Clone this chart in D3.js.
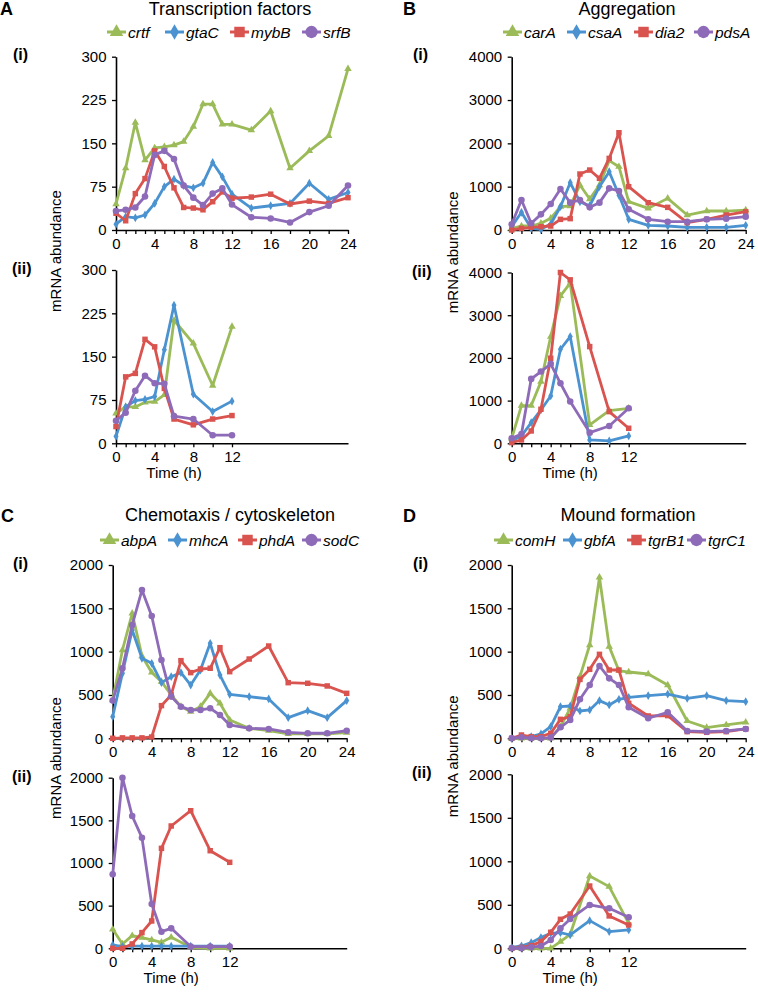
<!DOCTYPE html>
<html><head><meta charset="utf-8">
<script src="https://cdn.jsdelivr.net/npm/d3@7"></script>
<style>body{margin:0;background:#fff;} svg{display:block;font-family:"Liberation Sans",Arial,sans-serif;}</style>
</head><body><svg id="c" width="758" height="992"></svg>
<script>
// ---------- DATA ----------
const timesI  = [0,1,2,3,4,5,6,7,8,9,10,11,12,14,16,18,20,22,24];
const timesII = [0,1,2,3,4,5,6,8,10,12];
const xLabelsI  = [0,4,8,12,16,20,24];
const xLabelsII = [0,4,8,12];

// A: Transcription factors
const genesA = ["crtf","gtaC","mybB","srfB"];
const yTicksA = [0,75,150,225,300];
const crtf_i = [45,107,186,121,142,144,147,153,179,218,218,183,183,173,206,107,137,163,279];
const gtaC_i = [10,23,21,26,46,75,88,77,73,81,117,92,62,38,42,46,81,53,65];
const mybB_i = [29,16,63,89,137,110,73,39,38,35,49,66,55,57,62,45,50,46,56];
const srfB_i = [33,35,39,58,130,137,123,77,56,43,63,72,44,22,20,13,31,42,77];
const crtf_ii = [52,63,63,71,72,84,213,173,100,202];
const gtaC_ii = [12,63,74,76,81,162,239,85,55,73];
const mybB_ii = [29,115,121,180,167,95,42,32,42,48];
const srfB_ii = [39,53,91,117,104,103,47,42,14,14];

// B: Aggregation
const genesB = ["carA","csaA","dia2","pdsA"];
const yTicksB = [0,1000,2000,3000,4000];
const carA_i = [38,92,92,154,269,538,554,1038,715,1038,1600,1461,654,500,730,346,438,438,461];
const csaA_i = [77,408,38,15,138,538,1092,650,560,1000,1346,800,246,108,92,62,62,62,108];
const dia2_i = [0,38,62,77,92,246,262,1292,1384,1192,1653,2245,1000,630,523,169,246,346,423];
const pdsA_i = [131,692,154,361,600,946,631,692,523,631,961,900,477,246,192,192,246,262,308];
const carA_ii = [117,883,883,1445,2500,3452,3750,430,765,820];
const csaA_ii = [62,172,484,781,1109,2203,2500,78,55,172];
const dia2_ii = [16,78,289,797,1992,4000,3828,2265,742,352];
const pdsA_ii = [117,219,1508,1680,1860,1406,977,250,406,820];

// C: Chemotaxis / cytoskeleton
const genesC = ["abpA","mhcA","phdA","sodC"];
const yTicksC = [0,500,1000,1500,2000];
const abpA_i = [442,1019,1442,950,760,654,500,365,308,365,519,404,212,115,88,50,50,50,65];
const mhcA_i = [250,750,1250,923,865,642,711,758,615,788,1096,730,508,480,454,238,319,238,435];
const phdA_i = [0,5,5,5,15,377,500,896,758,800,808,1046,769,915,1065,642,635,604,519];
const sodC_i = [435,808,1308,1711,1411,904,481,365,327,327,346,269,154,115,108,69,58,58,88];
const abpA_ii = [223,51,148,125,98,70,129,12,0,0];
const mhcA_ii = [39,20,25,25,25,25,25,25,25,25];
const phdA_ii = [0,0,51,184,320,1172,1434,1613,1144,1008];
const sodC_ii = [867,2000,1551,1297,520,195,234,20,20,20];

// D: Mound formation
const genesD = ["comH","gbfA","tgrB1","tgrC1"];
const yTicksD = [0,500,1000,1500,2000];
const comH_i = [0,0,0,0,0,135,346,711,1077,1858,1058,780,765,742,615,200,123,154,185];
const gbfA_i = [0,19,19,50,135,365,373,315,327,435,385,450,473,492,511,462,492,435,423];
const tgrB1_i = [0,38,19,19,58,219,250,680,796,969,788,788,404,258,262,77,69,77,108];
const tgrC1_i = [0,12,0,0,8,127,212,450,615,835,692,615,358,231,300,85,77,85,108];
const comH_ii = [0,0,0,0,0,77,161,831,709,287];
const gbfA_ii = [11,27,65,123,172,180,153,318,192,211];
const tgrB1_ii = [0,11,31,77,184,333,394,716,372,268];
const tgrC1_ii = [0,0,11,27,96,230,337,498,460,356];

// ---------- STYLE ----------
const colors = ["#9BBB59","#4A92D0","#D9534F","#8E6BB8"];
const shapes = [d3.symbolTriangle, d3.symbolDiamond, d3.symbolSquare, d3.symbolCircle];
const markSize = [24, 22, 30, 34];
const legSize = [80, 70, 110, 120];
const FONT = "'Liberation Sans', Arial, sans-serif";

const panels = [
 {letter:"A", lx:0, ly:15, title:"Transcription factors", tx:230, ty:15, genes:genesA, yTicks:yTicksA,
  dI:[crtf_i,gtaC_i,mybB_i,srfB_i], dII:[crtf_ii,gtaC_ii,mybB_ii,srfB_ii],
  x0:116, x1:348, topI:56.7, botI:230, topII:270, botII:443.3, legXs:[107,165,230,302], legY:32, romX:13, ylabX:60.5},
 {letter:"B", lx:403, ly:15, title:"Aggregation", tx:627, ty:15, genes:genesB, yTicks:yTicksB,
  dI:[carA_i,csaA_i,dia2_i,pdsA_i], dII:[carA_ii,csaA_ii,dia2_ii,pdsA_ii],
  x0:511.7, x1:745.7, topI:56.7, botI:230, topII:272.5, botII:443.3, legXs:[503,567,634,694], legY:32, romX:413, ylabX:457.5},
 {letter:"C", lx:1, ly:522, title:"Chemotaxis / cytoskeleton", tx:230, ty:521, genes:genesC, yTicks:yTicksC,
  dI:[abpA_i,mhcA_i,phdA_i,sodC_i], dII:[abpA_ii,mhcA_ii,phdA_ii,sodC_ii],
  x0:112.7, x1:346.7, topI:565, botI:738.3, topII:777.7, botII:948.3, legXs:[100,168,238,302], legY:540, romX:13, ylabX:60.5},
 {letter:"D", lx:403, ly:522, title:"Mound formation", tx:628, ty:521, genes:genesD, yTicks:yTicksD,
  dI:[comH_i,gbfA_i,tgrB1_i,tgrC1_i], dII:[comH_ii,gbfA_ii,tgrB1_ii,tgrC1_ii],
  x0:511.7, x1:745.7, topI:565, botI:738.3, topII:774.3, botII:948.3, legXs:[494,563,627,687], legY:540, romX:413, ylabX:457.5}
];

const svg = d3.select("#c");

function drawPlot(g, p, times, series, top, bot, labels, showTime) {
  const x = d3.scaleLinear().domain([0,24]).range([p.x0, p.x1]);
  const y = d3.scaleLinear().domain([0, p.yTicks[p.yTicks.length-1]]).range([bot, top]);
  const ya = g.append("g").attr("transform", `translate(${p.x0},0)`)
    .call(d3.axisLeft(y).tickValues(p.yTicks).tickSize(4).tickSizeOuter(0).tickPadding(5.5).tickFormat(d3.format("d")));
  const xa = g.append("g").attr("transform", `translate(0,${bot})`)
    .call(d3.axisBottom(x).tickValues(times).tickSize(4).tickSizeOuter(0).tickPadding(4.5)
      .tickFormat(d => labels.includes(d) ? d : ""));
  [ya, xa].forEach(a => {
    a.selectAll("path.domain").attr("stroke","#000").attr("stroke-width",1.6);
    a.selectAll(".tick line").attr("stroke","#000").attr("stroke-width",1.3);
    a.selectAll(".tick text").attr("fill","#000").style("font-size","15px").style("font-family",FONT);
  });
  const line = d3.line().x((d,i) => x(times[i])).y(d => y(d));
  series.forEach((vals, k) => {
    g.append("path").datum(vals).attr("d", line).attr("fill","none")
      .attr("stroke", colors[k]).attr("stroke-width", 2.8).attr("stroke-linejoin","round");
    g.selectAll(null).data(vals).enter().append("path")
      .attr("d", d3.symbol().type(shapes[k]).size(markSize[k]))
      .attr("transform", (d,i) => `translate(${x(times[i])},${y(d)})`)
      .attr("fill", colors[k]);
  });
  if (showTime) {
    g.append("text").attr("x", (x(0)+x(12))/2).attr("y", bot + 35).attr("text-anchor","middle")
      .style("font-size","15px").text("Time (h)");
  }
}

panels.forEach(p => {
  const g = svg.append("g");
  g.append("text").attr("x", p.lx).attr("y", p.ly).style("font-size","18px").style("font-weight","bold").text(p.letter);
  g.append("text").attr("x", p.tx).attr("y", p.ty).attr("text-anchor","middle").style("font-size","18px").text(p.title);
  p.genes.forEach((gname, k) => {
    const cx = p.legXs[k];
    g.append("line").attr("x1", cx).attr("x2", cx+19).attr("y1", p.legY).attr("y2", p.legY)
      .attr("stroke", colors[k]).attr("stroke-width", 3);
    g.append("path").attr("d", d3.symbol().type(shapes[k]).size(legSize[k])())
      .attr("transform", `translate(${cx+9.5},${p.legY})`).attr("fill", colors[k]);
    g.append("text").attr("x", cx+21).attr("y", p.legY+5.5)
      .style("font-size","15.5px").style("font-style","italic").text(gname);
  });
  g.append("text").attr("x", p.romX).attr("y", p.topI + 3.5).style("font-size","16px").style("font-weight","bold").text("(i)");
  g.append("text").attr("x", p.romX - 1).attr("y", p.topII + 4).style("font-size","16px").style("font-weight","bold").text("(ii)");
  const midY = (p.botI + p.topII) / 2 + (p.letter === "A" || p.letter === "B" ? 1 : 0);
  g.append("text").attr("transform", `translate(${p.ylabX},${midY}) rotate(-90)`).attr("text-anchor","middle")
    .style("font-size","15px").text("mRNA abundance");
  drawPlot(g, p, timesI, p.dI, p.topI, p.botI, xLabelsI, false);
  drawPlot(g, p, timesII, p.dII, p.topII, p.botII, xLabelsII, true);
});
</script>
</body></html>
